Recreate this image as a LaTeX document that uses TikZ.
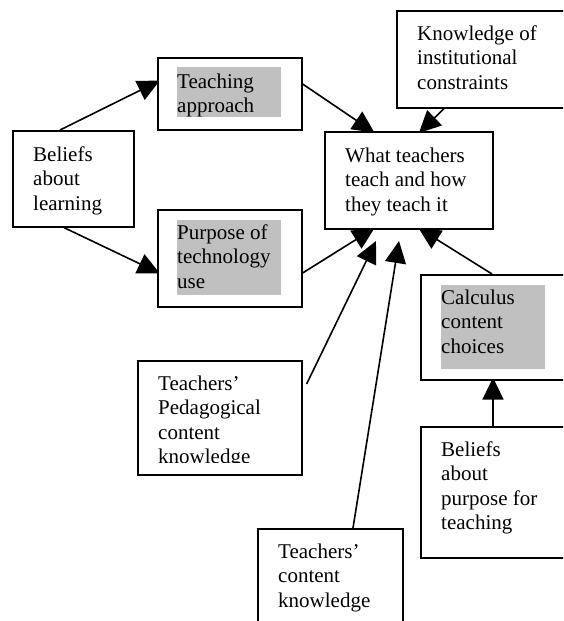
\documentclass[tikz,border=0pt]{standalone}
\usepackage{fontspec}
\setmainfont{Liberation Serif}
\usetikzlibrary{arrows.meta,calc}
\pgfdeclarelayer{bg}
\pgfsetlayers{bg,main}
\definecolor{hlgray}{HTML}{C0C0C0}
\tikzset{
  box/.style={draw, fill=white, line width=1.6pt, rectangle, inner sep=0pt, anchor=north west},
  lbl/.style={anchor=north west, inner sep=0pt, align=left, font=\fontsize{21}{24.5}\selectfont},
  hl/.style={fill=hlgray},
  arr/.style={line width=1.6pt, -{Triangle[length=22pt,width=21pt]}, shorten >=-3pt},
  freearr/.style={arr, shorten >=0pt},
}
\begin{document}
\begin{tikzpicture}[x=1pt,y=-1pt]
\useasboundingbox (0,0) rectangle (563,621);
\begin{scope}
\clip (0,0) rectangle (563,621);
% boxes
\node[box, minimum width=121pt, minimum height=96pt] (bl) at (12,130) {};
\node[box, minimum width=144pt, minimum height=72pt] (ta) at (157,57) {};
\node[box, minimum width=144pt, minimum height=97pt] (pt) at (157,209) {};
\node[box, minimum width=168pt, minimum height=97pt] (wt) at (324,131) {};
\node[box, minimum width=190pt, minimum height=97pt] (ki) at (396,10) {};
\node[box, minimum width=170pt, minimum height=105pt] (cc) at (420,274) {};
\node[box, minimum width=170pt, minimum height=131pt] (bp) at (420,426) {};
\node[box, minimum width=164pt, minimum height=114pt] (pck) at (137,360) {};
\node[box, minimum width=145pt, minimum height=120pt] (ck) at (257,528) {};
% highlights
\fill[hl] (177,67) rectangle (281,117);
\fill[hl] (177,220) rectangle (281,295);
\fill[hl] (441,285) rectangle (545,369);
% texts
\node[lbl] (tbl) at (33,143.85) {\strut Beliefs\\about\\learning};
\node[lbl] (tta) at (177,70.85) {\strut Teaching\\approach};
\node[lbl] (tpt) at (177,221.85) {\strut Purpose of\\technology\\use};
\node[lbl] (twt) at (345,144.85) {\strut What teachers\\teach and how\\they teach it};
\node[lbl] (tki) at (417,22.85) {\strut Knowledge of\\institutional\\constraints};
\node[lbl] (tcc) at (441,286.85) {\strut Calculus\\content\\choices};
\node[lbl] (tbp) at (441,438.85) {\strut Beliefs\\about\\purpose for\\teaching};
\node[lbl] (tck) at (278,540.85) {\strut Teachers’\\content\\knowledge};
\begin{scope}
\clip (137,360) rectangle (301,462);
\node[lbl] (tpck) at (158,372.85) {\strut Teachers’\\Pedagogical\\content\\knowledge};
\end{scope}
\end{scope}
\coordinate (pckend) at (376,241);
\coordinate (ckend) at (399,241);
\begin{pgfonlayer}{bg}
\draw[arr] ($(bl.north west)+(48,0)$) -- ($(ta.north west)+(0,25)$);
\draw[arr] ($(bl.south west)+(52,0)$) -- ($(pt.north west)+(0,63)$);
\draw[arr] ($(ta.north east)+(0,27)$) -- ($(wt.north west)+(48,0)$);
\draw[arr] ($(ki.south west)+(48,0)$) -- ($(wt.north west)+(97,0)$);
\draw[arr] ($(pt.north east)+(0,64)$) -- ($(wt.south west)+(48,0)$);
\draw[freearr] ($(pck.north east)+(4,24)$) -- (pckend);
\draw[freearr] ($(ck.north west)+(96,0)$) -- (ckend);
\draw[arr] ($(cc.north west)+(72,0)$) -- ($(wt.south west)+(97,0)$);
\draw[arr] ($(bp.north west)+(73,0)$) -- ($(cc.south west)+(73,0)$);
\end{pgfonlayer}
\end{tikzpicture}
\end{document}
